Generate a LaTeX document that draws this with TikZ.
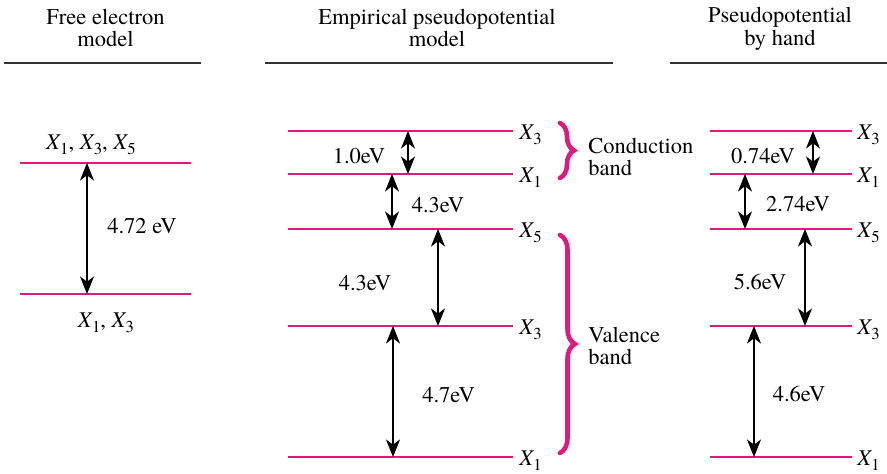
\documentclass[tikz,border=0pt]{standalone}
\usepackage{fontspec}
\setmainfont{texgyretermes}[Extension=.otf, UprightFont=*-regular, ItalicFont=*-italic, BoldFont=*-bold]
\usepackage{tikz}
\usetikzlibrary{positioning, arrows.meta, decorations.pathreplacing}
\definecolor{bPink}{HTML}{E5177E}
\definecolor{nInk}{HTML}{333333}
\newcommand{\Xs}[1]{\textit{X}\kern-0.4pt\raisebox{-0.45ex}{\fontsize{9.5}{9.5}\selectfont #1}}

\begin{document}
\begin{tikzpicture}[>={Stealth[length=10pt,width=8pt,inset=3pt]},
  font=\fontsize{12.8}{13}\selectfont,
  head/.style={draw=nInk, line width=1.5pt},
  lvl/.style={inner sep=0pt, outer sep=0pt, minimum height=0pt},
  lev/.style={draw=bPink, line width=1.1pt},
  gap/.style={<->, line width=0.7pt},
  xlab/.style={anchor=base west, inner sep=0pt},
  band/.style={draw=bPink, line width=2.6pt, line cap=round, decorate, decoration={brace, amplitude=#1}},
  bandtext/.style={anchor=west, align=left, inner sep=0pt}]
  \useasboundingbox (0,0) rectangle (17.74,9.48);
  % column titles
  \node[align=center] (tf) at (2.11,8.92) {Free electron\\model};
  \node[align=center] (te) at (8.74,8.92) {Empirical pseudopotential\\model};
  \node[align=center] (th) at (15.60,8.90) {Pseudopotential\\by hand};
  \draw[head] (0.08,8.22) -- (4.02,8.22);
  \draw[head] (5.30,8.22) -- (12.26,8.22);
  \draw[head] (13.40,8.22) -- (17.74,8.22);

  % free electron
  \node[lvl, minimum width=3.42cm] (f1) at (2.11,6.22) {};
  \node[lvl, minimum width=3.42cm] (f0) at (2.11,3.60) {};
  \draw[lev] (f1.west) -- (f1.east);
  \draw[lev] (f0.west) -- (f0.east);
  \draw[gap] (1.74,0 |- f1) -- (1.74,0 |- f0);
  \node (fg) at (2.84,4.96) {4.72 eV};
  \node (fx1) at (1.82,6.58) {\Xs{1}, \Xs{3}, \Xs{5}};
  \node (fx0) at (2.12,3.02) {\Xs{1}, \Xs{3}};

  % empirical pseudopotential and by hand
  \foreach \n/\y/\s in {3t/6.86/3, 1t/6.00/1, 5/4.90/5, 3/2.96/3, 1/0.34/1} {
    \node[lvl, minimum width=4.50cm] (e\n) at (8.01,\y) {};
    \draw[lev] (e\n.west) -- (e\n.east);
    \node[xlab] (ex\n) at ([xshift=0.12cm, yshift=-0.18cm]e\n.east) {\Xs{\s}};
    \node[lvl, minimum width=2.84cm] (h\n) at (15.62,\y) {};
    \draw[lev] (h\n.west) -- (h\n.east);
    \node[xlab] (hx\n) at ([xshift=0.10cm, yshift=-0.18cm]h\n.east) {\Xs{\s}};
  }
  \foreach \a/\b/\x in {e3t/e1t/8.16, e1t/e5/7.84, e5/e3/8.76, e3/e1/7.86,
                        h3t/h1t/16.26, h1t/h5/14.90, h5/h3/16.10, h3/h1/15.08}
    \draw[gap] (\x,0 |- \a) -- (\x,0 |- \b);
  \node (eg1) at (7.18,6.36) {1.0eV};
  \node (eg2) at (8.76,5.38) {4.3eV};
  \node (eg3) at (7.30,3.82) {4.3eV};
  \node (eg4) at (8.97,1.58) {4.7eV};
  \node (hg1) at (15.26,6.36) {0.74eV};
  \node (hg2) at (15.96,5.39) {2.74eV};
  \node (hg3) at (15.20,3.84) {5.6eV};
  \node (hg4) at (15.98,1.60) {4.6eV};

  % bands
  \draw[band=0.28cm] (11.20,7.02) -- (11.20,5.92);
  \draw[band=0.30cm] (11.20,4.78) -- (11.20,0.42);
  \node[bandtext] (cb) at (11.76,6.34) {Conduction\\band};
  \node[bandtext] (vb) at (11.76,2.56) {Valence\\band};
\end{tikzpicture}
\end{document}
